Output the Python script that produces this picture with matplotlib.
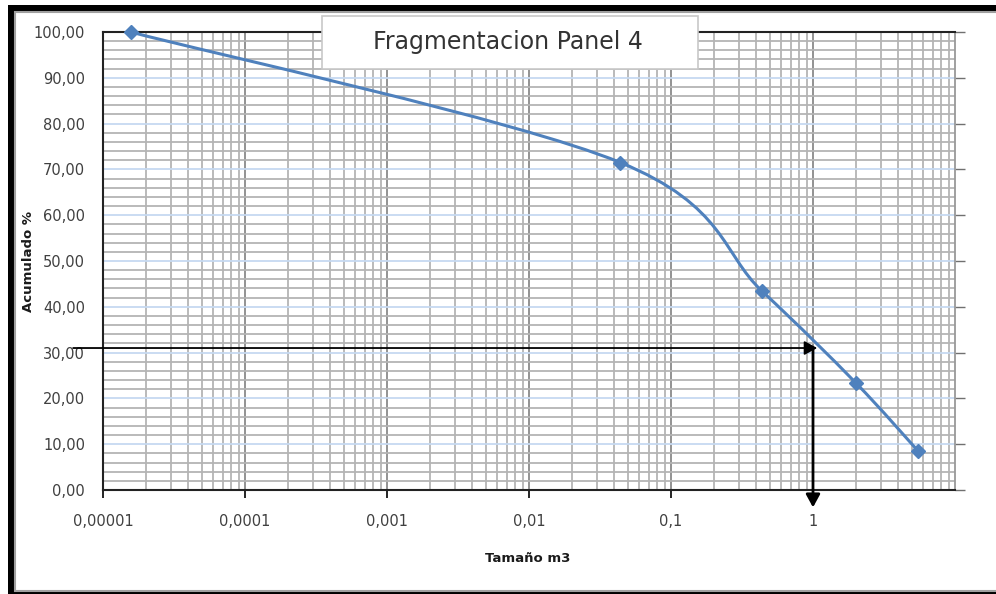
import numpy as np
import matplotlib
matplotlib.use("Agg")
import matplotlib.pyplot as plt
from matplotlib.path import Path
from matplotlib.patches import PathPatch, Rectangle
from matplotlib.ticker import LogLocator, FixedLocator, MultipleLocator

# data
tamano = [1.57e-5, 0.044, 0.435, 2.0, 5.5]
acumulado = [100.0, 71.5, 43.5, 23.4, 8.5]
x_ticks = [1e-5, 1e-4, 1e-3, 1e-2, 1e-1, 1]
x_labels = ["0,00001", "0,0001", "0,001", "0,01", "0,1", "1"]
y_ticks = [0, 10, 20, 30, 40, 50, 60, 70, 80, 90, 100]
y_labels = ["%.2f" % v for v in y_ticks]
y_labels = [s.replace(".", ",") for s in y_labels]
lectura_x = 1.0
lectura_y = 31.0

blue = "#4f81bd"
txt = "#404040"

fig = plt.figure(figsize=(9.96, 5.94), dpi=100)
W, H = 996, 594

# outer frame: thick black on left/top, white panel inside
fig.patches.append(Rectangle((8 / W, 0), 1, 1 - 5 / H, transform=fig.transFigure,
                             facecolor="black", edgecolor="none", zorder=-10))
fig.patches.append(Rectangle((15 / W, 3 / H), 1, 1 - 15 / H, transform=fig.transFigure,
                             facecolor="white", edgecolor="#a0a0a0", lw=1.5, zorder=-9))

ax = fig.add_axes([103 / W, 1 - 490 / H, (955 - 103) / W, (490 - 32) / H])
ax.set_facecolor("white")
ax.set_xscale("log")
ax.set_xlim(1e-5, 10)
ax.set_ylim(0, 100)

# grid (decade line at 10 drawn separately as the right edge)
ax.xaxis.set_major_locator(FixedLocator(x_ticks))
ax.xaxis.set_minor_locator(LogLocator(base=10, subs=np.arange(2, 10), numticks=20))
ax.yaxis.set_major_locator(FixedLocator(y_ticks))
ax.yaxis.set_minor_locator(MultipleLocator(2))
ax.grid(True, axis="y", which="minor", color="#b4b4b4", lw=1.3, zorder=1)
ax.grid(True, axis="y", which="major", color="#c6d9f1", lw=1.3, zorder=1)
ax.grid(True, axis="x", which="minor", color="#b4b4b4", lw=1.3, zorder=1)
ax.grid(True, axis="x", which="major", color="#8a8a8a", lw=1.3, zorder=1)
ax.set_axisbelow(True)

ax.set_xticks(x_ticks)
ax.set_xticklabels(x_labels)
ax.set_yticks(y_ticks)
ax.set_yticklabels(y_labels)
ax.tick_params(axis="x", which="major", direction="out", length=6, width=1.2,
               color="black", labelsize=10.5, labelcolor=txt, pad=11)
ax.tick_params(axis="x", which="minor", length=0)
ax.tick_params(axis="y", which="major", left=False, right=True, direction="out",
               length=7, width=1, color="#707070", labelsize=10.5, labelcolor=txt, pad=6)
ax.tick_params(axis="y", which="minor", length=0)

for s in ["left", "bottom", "top"]:
    ax.spines[s].set_color("#222222")
    ax.spines[s].set_linewidth(1.5)
ax.spines["right"].set_color("#999999")
ax.spines["right"].set_linewidth(1.3)

# smoothed line (bezier like Excel), control points in log-x space
lx = np.log10(tamano)
ly = np.array(acumulado)
verts = [(tamano[0], ly[0])]
codes = [Path.MOVETO]
n = len(lx)
for i in range(n - 1):
    p0 = max(i - 1, 0)
    p3 = min(i + 2, n - 1)
    c1x = lx[i] + (lx[i + 1] - lx[p0]) / 6
    c1y = ly[i] + (ly[i + 1] - ly[p0]) / 6
    c2x = lx[i + 1] - (lx[p3] - lx[i]) / 6
    c2y = ly[i + 1] - (ly[p3] - ly[i]) / 6
    verts += [(10 ** c1x, c1y), (10 ** c2x, c2y), (tamano[i + 1], ly[i + 1])]
    codes += [Path.CURVE4] * 3
ax.add_patch(PathPatch(Path(verts, codes), facecolor="none", edgecolor=blue,
                       lw=2.2, zorder=3, clip_on=False))
ax.plot(tamano, acumulado, linestyle="none", marker="D", ms=7, color=blue,
        zorder=4, clip_on=False)

# reading arrows
ax.annotate("", xy=(1.07, lectura_y), xycoords="data",
            xytext=(-0.035, lectura_y), textcoords=ax.get_yaxis_transform(),
            arrowprops=dict(arrowstyle="-|>,head_length=0.55,head_width=0.3",
                            mutation_scale=14, color="black", lw=1.3,
                            shrinkA=0, shrinkB=0),
            annotation_clip=False, zorder=5)
ax.annotate("", xy=(lectura_x, -3.8), xycoords="data",
            xytext=(lectura_x, lectura_y), textcoords="data",
            arrowprops=dict(arrowstyle="-|>,head_length=0.55,head_width=0.3",
                            mutation_scale=14, color="black", lw=2,
                            shrinkA=0, shrinkB=0),
            annotation_clip=False, zorder=5)

# title box
fig.patches.append(Rectangle((322 / W, 1 - 69 / H), 376 / W, 53 / H,
                             transform=fig.transFigure, facecolor="white",
                             edgecolor="#c8c8c8", lw=1.2, zorder=10))
fig.text(508 / W, 1 - 42 / H, "Fragmentacion Panel 4", ha="center", va="center",
         fontsize=17, color="#333333", zorder=11)

fig.text(528 / W, 1 - 558 / H, "Tamaño m3", ha="center", va="center",
         fontsize=9.5, fontweight="bold", color="#1a1a1a")
fig.text(28 / W, 1 - 261 / H, "Acumulado %", ha="center", va="center",
         rotation=90, fontsize=9.5, fontweight="bold", color="#1a1a1a")

fig.savefig("out.png", dpi=100)
